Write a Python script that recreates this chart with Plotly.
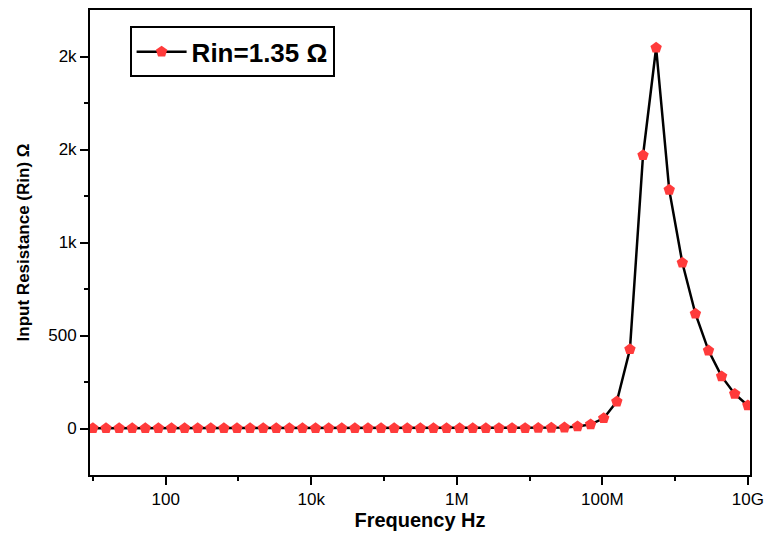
import plotly.graph_objects as go

freq_hz = [
    1.0e1, 1.514e1, 2.291e1, 3.467e1, 5.248e1, 7.943e1, 1.202e2, 1.820e2, 2.754e2, 4.169e2,
    6.310e2, 9.550e2, 1.445e3, 2.188e3, 3.311e3, 5.012e3, 7.586e3, 1.148e4, 1.738e4, 2.630e4,
    3.981e4, 6.026e4, 9.120e4, 1.380e5, 2.089e5, 3.162e5, 4.786e5, 7.244e5, 1.096e6, 1.660e6,
    2.512e6, 3.802e6, 5.754e6, 8.710e6, 1.318e7, 1.995e7, 3.020e7, 4.571e7, 6.918e7, 1.047e8,
    1.585e8, 2.399e8, 3.631e8, 5.495e8, 8.318e8, 1.259e9, 1.905e9, 2.884e9, 4.365e9, 6.607e9,
    1.0e10,
]
rin_ohm = [
    1.35, 1.35, 1.35, 1.35, 1.35, 1.35, 1.35, 1.35, 1.35, 1.35,
    1.35, 1.35, 1.35, 1.35, 1.35, 1.35, 1.35, 1.35, 1.35, 1.35,
    1.35, 1.35, 1.35, 1.35, 1.35, 1.35, 1.35, 1.35, 1.36, 1.38,
    1.4, 1.5, 1.7, 2.0, 2.6, 3.5, 5.0, 11, 22, 55,
    145, 426, 1469, 2047, 1283, 891, 617, 419, 280, 186,
    124,
]

x_tickvals = [1e2, 1e4, 1e6, 1e8, 1e10]
x_ticktext = ["100", "10k", "1M", "100M", "10G"]
x_minor = [1e1, 1e3, 1e5, 1e7, 1e9]
y_tickvals = [0, 500, 1000, 1500, 2000]
y_ticktext = ["0", "500", "1k", "2k", "2k"]
y_minor = [250, 750, 1250, 1750]

series_name = "<b>Rin=1.35 Ω</b>"
x_title = "<b>Frequency Hz</b>"
y_title = "<b>Input Resistance (Rin) Ω</b>"

fig = go.Figure()
fig.add_trace(go.Scatter(
    x=freq_hz, y=rin_ohm, mode="lines+markers", name=series_name,
    line=dict(color="black", width=2.5),
    marker=dict(symbol="pentagon", size=12, color="#ff3b3b", line=dict(width=0)),
))

font_family = "Liberation Sans, Arial, sans-serif"
fig.update_layout(
    width=768, height=534,
    margin=dict(l=90, r=18, t=10, b=59, autoexpand=False),
    paper_bgcolor="white", plot_bgcolor="white",
    font=dict(family=font_family, color="black", size=17),
    showlegend=True,
    legend=dict(
        x=0.06, y=0.965, xanchor="left", yanchor="top",
        bgcolor="white", bordercolor="black", borderwidth=2,
        font=dict(size=26, family=font_family, color="black"),
        itemwidth=50, tracegroupgap=0,
    ),
    xaxis=dict(
        type="log", range=[0.96, 10.03], automargin=False,
        tickmode="array", tickvals=x_tickvals, ticktext=x_ticktext,
        ticks="outside", ticklen=8, tickwidth=2, tickcolor="black",
        minor=dict(tickmode="array", tickvals=x_minor, ticks="outside", ticklen=4, tickwidth=2, tickcolor="black"),
        showline=True, linecolor="black", linewidth=2, mirror=True,
        showgrid=False, zeroline=False,
        tickfont=dict(size=17),
        title=dict(text=x_title, font=dict(size=20), standoff=2),
    ),
    yaxis=dict(
        range=[-250, 2250], automargin=False,
        tickmode="array", tickvals=y_tickvals, ticktext=y_ticktext,
        ticks="outside", ticklen=8, tickwidth=2, tickcolor="black",
        minor=dict(tickmode="array", tickvals=y_minor, ticks="outside", ticklen=4, tickwidth=2, tickcolor="black"),
        showline=True, linecolor="black", linewidth=2, mirror=True,
        showgrid=False, zeroline=False,
        tickfont=dict(size=17),
        title=dict(text=y_title, font=dict(size=17), standoff=14),
    ),
)

fig.write_html("out.html")
